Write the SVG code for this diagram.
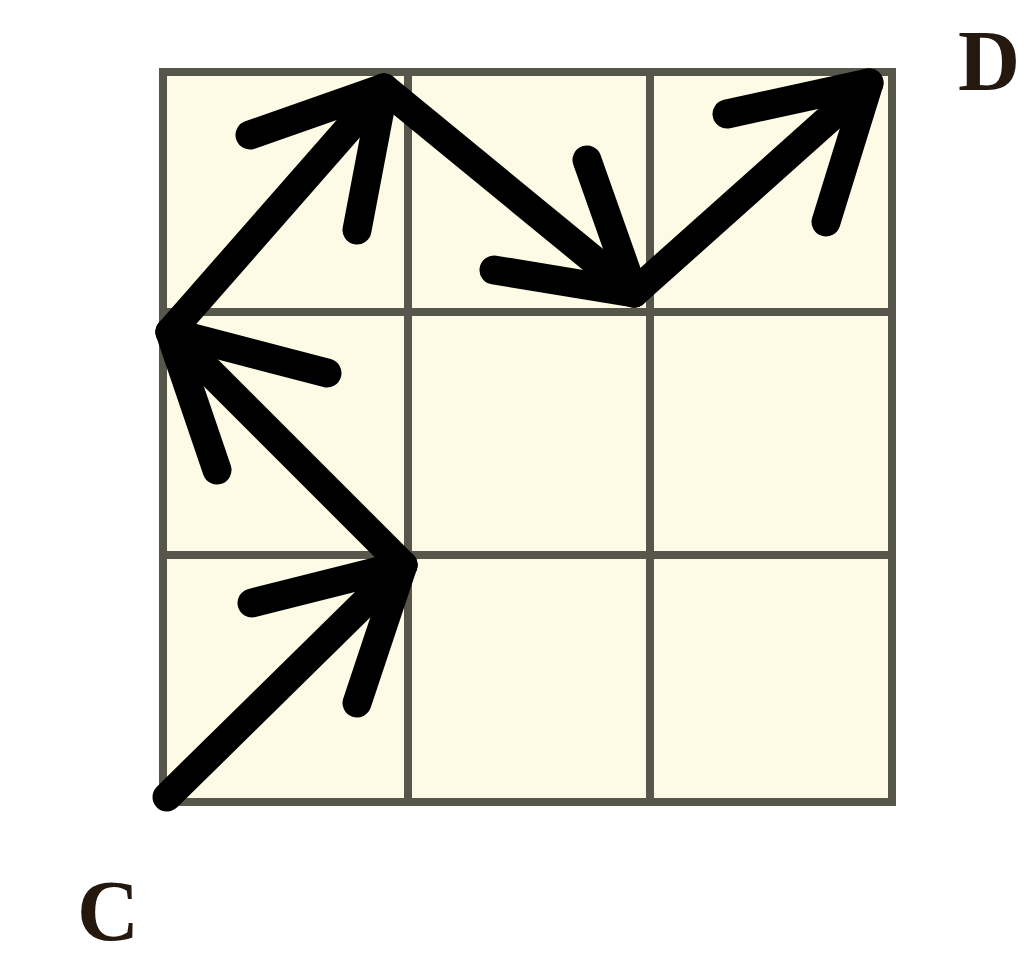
<svg xmlns="http://www.w3.org/2000/svg" width="1024" height="960" viewBox="0 0 1024 960">
  <style>
    .grid { stroke: #57564a; stroke-width: 8; fill: none; }
    .arrow { stroke: #000; stroke-width: 29; fill: none; stroke-linecap: round; stroke-linejoin: round; }
    .label { font-family: "Liberation Serif", "Times New Roman", serif; font-weight: bold; font-size: 86px; fill: #24180f; }
  </style>
  <rect width="1024" height="960" fill="#ffffff"/>
  <g id="grid">
    <rect x="163" y="72" width="729" height="730" fill="#fdfbe6"/>
    <path class="grid" d="M163 72 H892 V802 H163 Z M408 72 V802 M650 72 V802 M163 312 H892 M163 555 H892"/>
  </g>
  <g id="connectors">
    <g id="arrow1">
      <line class="arrow" x1="167" y1="797" x2="403" y2="565"/>
      <polyline class="arrow" points="252,603 403,565 357,703"/>
    </g>
    <g id="arrow2">
      <line class="arrow" x1="403" y1="565" x2="170" y2="332"/>
      <polyline class="arrow" points="327,373 170,332 217,470"/>
    </g>
    <g id="arrow3">
      <line class="arrow" x1="170" y1="332" x2="384" y2="88"/>
      <polyline class="arrow" points="250,135 384,88 357,230"/>
    </g>
    <g id="arrow4">
      <line class="arrow" x1="384" y1="88" x2="634" y2="293"/>
      <polyline class="arrow" points="587,160 634,293 494,270"/>
    </g>
    <g id="arrow5">
      <line class="arrow" x1="634" y1="293" x2="869" y2="83"/>
      <polyline class="arrow" points="727,114 869,83 826,222"/>
    </g>
  </g>
  <g id="label-D"><text class="label" x="958" y="90">D</text></g>
  <g id="label-C"><text class="label" x="77" y="940">C</text></g>
</svg>
